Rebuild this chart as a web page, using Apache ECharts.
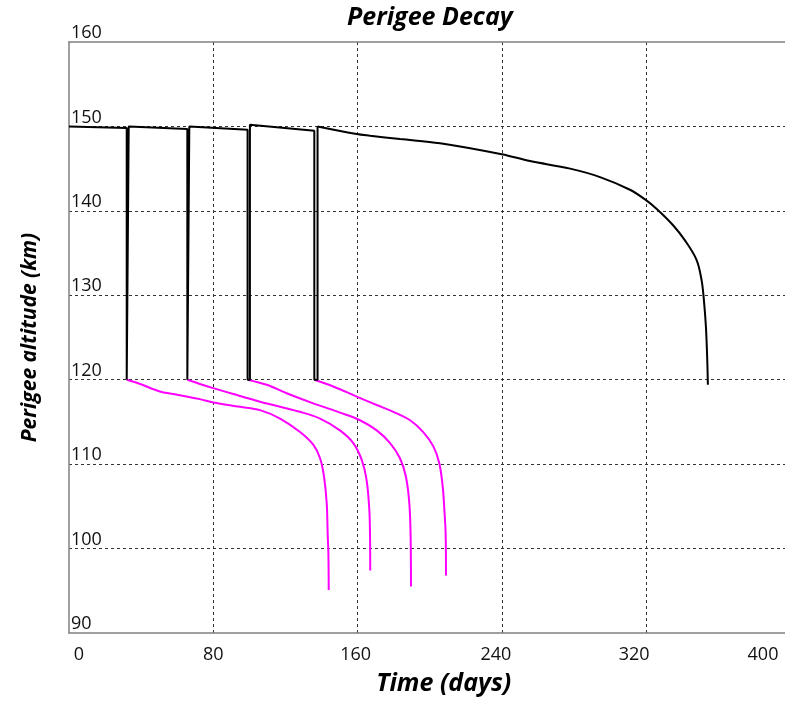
<!DOCTYPE html>
<html>
<head>
<meta charset="utf-8">
<script src="https://cdn.jsdelivr.net/npm/echarts@6/dist/echarts.min.js"></script>
<style>
  html, body { margin: 0; padding: 0; background: #fff; }
  #chart { width: 785px; height: 703px; }
</style>
</head>
<body>
<div id="chart"></div>
<script>
// ---- Data ----
const chartTitle = 'Perigee Decay';
const xAxisName = 'Time (days)';
const yAxisName = 'Perigee altitude (km)';
const xTicks = [0, 80, 160, 240, 320, 400];
const yTicks = [90, 100, 110, 120, 130, 140, 150, 160];

// Main (black) perigee history: reboost phase
const mainDays = [0, 32.0, 32.0, 33.1, 33.1, 65.6, 65.6, 66.7, 66.7, 99.0, 99.0, 100.3, 100.3,
  136.0, 136.0, 137.8, 137.8];
const mainAlt = [150.0, 149.8, 120.0, 120.0, 150.0, 149.7, 120.0, 120.0, 150.0, 149.6, 120.0, 120.0, 150.2,
  149.5, 120.0, 120.0, 150.0];
// Main (black) final decay after last reboost
const tailDays = [137.8, 159.5, 166.9, 183.5, 205.7, 239.9, 255.6, 277.8, 294.4, 311.0,
  319.7, 326.0, 334.9, 341.5, 347.9, 350.7, 352.0, 353.1, 353.8, 354.2];
const tailAlt = [150.0, 149.1, 148.9, 148.5, 148.0, 146.7, 145.9, 145.0, 144.0, 142.5,
  141.3, 140.2, 138.3, 136.5, 134.2, 131.8, 129.4, 126.3, 122.7, 119.4];

// Magenta decay curves (no reboost)
const decay1Days = [32.0, 39.4, 50.4, 57.8, 72.6, 80.0, 94.8, 105.9, 117.0, 128.1, 135.4, 139.2, 141.4, 142.9, 143.4, 143.8, 144.0];
const decay1Alt  = [120.0, 119.5, 118.6, 118.3, 117.7, 117.3, 116.8, 116.4, 115.4, 113.8, 112.3, 110.7, 108.5, 105.3, 101.8, 99.4, 95.1];
const decay2Days = [65.6, 72.6, 80.0, 91.1, 105.9, 117.0, 128.1, 139.2, 150.2, 157.6, 162.3, 165.0, 166.5, 166.9, 167.0];
const decay2Alt  = [120.0, 119.5, 119.0, 118.3, 117.4, 116.8, 116.2, 115.4, 114.0, 112.5, 110.5, 108.1, 104.6, 101.4, 97.4];
const decay3Days = [99.0, 109.6, 120.7, 135.4, 150.2, 161.3, 170.6, 178.0, 183.5, 186.8, 188.7, 189.4, 189.6];
const decay3Alt  = [120.0, 119.4, 118.4, 117.2, 116.1, 115.2, 114.0, 112.5, 110.7, 108.5, 105.3, 101.4, 95.5];
const decay4Days = [136.0, 146.5, 159.5, 170.6, 179.8, 189.1, 196.4, 202.0, 205.3, 207.2, 208.1, 208.8, 209.0];
const decay4Alt  = [120.0, 119.2, 118.0, 117.0, 116.2, 115.2, 113.8, 112.1, 110.1, 107.3, 104.6, 101.8, 96.8];

// ---- Build ----
const zip = (xs, ys) => xs.map((x, i) => [x, ys[i]]);
const FONT = 'Open Sans';
const tickFont = { fontSize: 18, fontFamily: FONT, color: '#111' };
const xLabelPad = { 0: [0, 0, 0, 20], 80: [0, 0, 0, 0], 160: [0, 4, 0, 0], 240: [0, 12, 0, 0], 320: [0, 24, 0, 0], 400: [0, 55, 0, 0] };
const rich = {};
xTicks.forEach(v => { rich['v' + v] = Object.assign({ padding: xLabelPad[v] || 0 }, tickFont); });
const decaySets = [[decay1Days, decay1Alt], [decay2Days, decay2Alt], [decay3Days, decay3Alt], [decay4Days, decay4Alt]];
const xMin = xTicks[0], xMax = xTicks[xTicks.length - 1];
const frameColor = '#808080';
const gridDash = { color: '#333', type: [3, 3], width: 1 };

const chart = echarts.init(document.getElementById('chart'), null, { renderer: 'canvas' });
chart.setOption({
  animation: false,
  backgroundColor: '#ffffff',
  title: {
    text: chartTitle, left: 342, top: 0,
    textStyle: { fontSize: 25, fontWeight: 'bold', fontStyle: 'italic', fontFamily: FONT, color: '#000' }
  },
  grid: { left: 69, top: 42, right: -5.5, bottom: 70, outerBoundsMode: 'none', containLabel: false, show: false },
  xAxis: [{
    type: 'value', min: xMin, max: xMax, interval: 80,
    name: xAxisName, nameLocation: 'middle', nameGap: 38,
    nameTextStyle: { fontSize: 25, fontWeight: 'bold', fontStyle: 'italic', fontFamily: FONT, color: '#000', padding: [0, 0, 0, 28] },
    axisLine: { show: true, lineStyle: { color: frameColor, width: 1.5 } },
    axisTick: { show: false },
    axisLabel: { margin: 13, showMinLabel: true, showMaxLabel: true, formatter: v => '{v' + v + '|' + v + '}', rich: rich },
    splitLine: { show: true, showMinLine: false, showMaxLine: false, lineStyle: gridDash }
  }, {
    type: 'value', min: xMin, max: xMax, interval: 80, position: 'top',
    axisLine: { show: true, lineStyle: { color: frameColor, width: 1.5 } }, axisTick: { show: false }, axisLabel: { show: false }, splitLine: { show: false }
  }],
  yAxis: {
    type: 'value', min: yTicks[0], max: yTicks[yTicks.length - 1], interval: 10,
    name: yAxisName, nameLocation: 'middle', nameGap: 28,
    nameTextStyle: { fontSize: 21, fontWeight: 'bold', fontStyle: 'italic', fontFamily: FONT, color: '#000' },
    axisLine: { show: true, lineStyle: { color: frameColor, width: 1.5 } },
    axisTick: { show: false },
    axisLabel: Object.assign({ inside: true, margin: 2, verticalAlign: 'bottom', showMinLabel: true, showMaxLabel: true }, tickFont),
    splitLine: { show: true, showMinLine: false, showMaxLine: false, lineStyle: gridDash }
  },
  series: decaySets.map((s, i) => ({
    type: 'line', name: 'decay' + (i + 1), data: zip(s[0], s[1]), showSymbol: false,
    smooth: 0.35, lineStyle: { color: '#ff00ff', width: 2 }, z: 2
  })).concat([{
    type: 'line', name: 'main', data: zip(mainDays, mainAlt), showSymbol: false, smooth: false,
    lineStyle: { color: '#000000', width: 2 }, z: 3
  }, {
    type: 'line', name: 'mainTail', data: zip(tailDays, tailAlt), showSymbol: false, smooth: 0.35,
    lineStyle: { color: '#000000', width: 2 }, z: 3
  }])
});
</script>
</body>
</html>
